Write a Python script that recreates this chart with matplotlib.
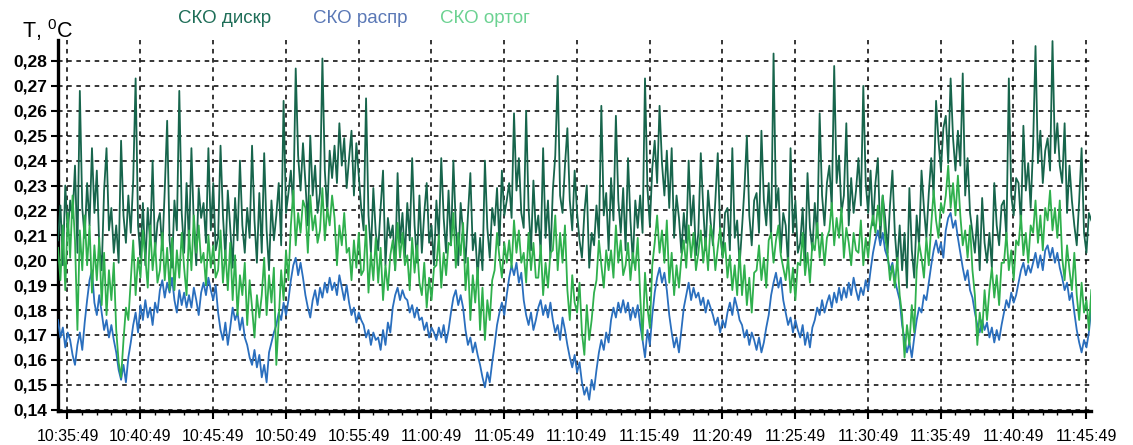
import matplotlib
matplotlib.use("Agg")
import matplotlib.pyplot as plt
import matplotlib.ticker as mticker
import matplotlib.dates as mdates
import pandas as pd

plt.rcParams['font.family'] = ['Liberation Sans', 'DejaVu Sans']

# ---- data, one sample every 10 s from 10:35:10 ----
start_time = '2020-01-01 10:35:10'
step = '10s'

sko_diskr = [
    .208, .222, .198, .230, .211, .224, .217, .238, .203, .268, .221, .209,
    .231, .214, .245, .219, .236, .206, .196, .228, .245, .212, .221, .203,
    .214, .199, .248, .218, .207, .226, .211, .232, .273, .214, .201, .223,
    .198, .221, .207, .240, .203, .215, .219, .204, .228, .256, .208, .197,
    .224, .212, .268, .219, .203, .231, .206, .245, .214, .198, .229, .217,
    .223, .207, .245, .212, .231, .204, .209, .246, .218, .201, .228, .213,
    .197, .225, .208, .240, .214, .203, .221, .209, .246, .216, .199, .227,
    .203, .243, .212, .196, .224, .208, .218, .231, .206, .264, .219, .227,
    .236, .221, .277, .242, .228, .247, .231, .214, .250, .226, .238, .219,
    .227, .281, .236, .219, .244, .233, .246, .231, .255, .238, .249, .229,
    .241, .252, .226, .247, .234, .221, .212, .265, .218, .203, .229, .211,
    .204, .221, .236, .198, .217, .209, .214, .196, .235, .207, .219, .201,
    .223, .208, .241, .214, .199, .226, .203, .219, .231, .207, .214, .198,
    .224, .209, .241, .217, .203, .228, .206, .240, .214, .198, .223, .211,
    .199, .218, .235, .204, .211, .193, .209, .196, .240, .213, .201, .221,
    .214, .229, .206, .236, .218, .224, .231, .217, .259, .228, .241, .219,
    .213, .260, .221, .204, .232, .211, .218, .203, .245, .209, .224, .201,
    .228, .242, .274, .226, .219, .238, .253, .224, .212, .236, .219, .208,
    .201, .219, .230, .197, .211, .206, .222, .209, .262, .218, .227, .204,
    .233, .216, .258, .224, .211, .229, .204, .241, .216, .199, .224, .213,
    .226, .211, .273, .229, .214, .237, .248, .231, .262, .239, .226, .244,
    .221, .245, .209, .226, .217, .203, .219, .207, .240, .214, .226, .202,
    .211, .243, .221, .204, .228, .216, .206, .224, .243, .211, .201, .219,
    .221, .204, .245, .209, .216, .198, .213, .229, .250, .218, .206, .224,
    .227, .211, .252, .224, .214, .231, .209, .283, .221, .229, .203, .219,
    .214, .198, .245, .211, .224, .203, .207, .221, .199, .235, .213, .204,
    .223, .209, .259, .226, .214, .231, .238, .221, .278, .231, .242, .219,
    .226, .255, .214, .233, .219, .228, .241, .222, .270, .231, .219, .236,
    .214, .231, .241, .209, .226, .217, .203, .222, .236, .211, .198, .214,
    .196, .211, .189, .229, .204, .193, .218, .206, .236, .221, .209, .227,
    .241, .226, .264, .248, .236, .253, .258, .239, .273, .249, .236, .252,
    .238, .275, .226, .241, .219, .211, .203, .218, .196, .225, .207, .199,
    .211, .197, .231, .214, .206, .222, .224, .209, .273, .226, .218, .233,
    .231, .214, .254, .228, .239, .221, .246, .286, .239, .252, .231, .244,
    .249, .236, .288, .243, .255, .238, .231, .255, .219, .238, .224, .214,
    .206, .224, .245, .211, .203, .219, .216,
]

sko_raspr = [
    .176, .169, .173, .165, .171, .168, .162, .158, .166, .171, .164, .175,
    .184, .192, .196, .183, .178, .186, .179, .172, .176, .169, .174, .168,
    .163, .156, .152, .158, .151, .161, .167, .174, .179, .171, .182, .176,
    .184, .177, .181, .174, .183, .179, .188, .192, .185, .191, .187, .193,
    .184, .179, .188, .182, .187, .181, .186, .181, .189, .184, .178, .187,
    .191, .186, .193, .188, .184, .190, .179, .172, .168, .175, .166, .173,
    .181, .176, .179, .172, .177, .169, .166, .161, .158, .164, .157, .162,
    .153, .158, .151, .163, .167, .171, .174, .179, .176, .183, .178, .184,
    .192, .198, .201, .194, .199, .193, .186, .181, .177, .184, .188, .182,
    .189, .185, .191, .187, .193, .188, .191, .186, .194, .189, .184, .190,
    .183, .178, .181, .175, .179, .176, .174, .169, .172, .166, .171, .168,
    .169, .164, .172, .166, .175, .171, .181, .186, .189, .184, .188, .185,
    .184, .179, .182, .177, .181, .176, .177, .172, .175, .169, .173, .171,
    .168, .173, .169, .174, .167, .172, .179, .185, .188, .182, .186, .181,
    .172, .166, .169, .163, .167, .162, .158, .153, .149, .155, .151, .159,
    .166, .174, .179, .183, .178, .186, .193, .198, .194, .199, .191, .195,
    .184, .178, .174, .179, .172, .176, .181, .184, .178, .182, .177, .183,
    .176, .171, .174, .168, .177, .172, .166, .161, .157, .162, .155, .159,
    .151, .146, .149, .144, .152, .148, .156, .163, .168, .164, .171, .167,
    .176, .181, .177, .183, .179, .184, .179, .183, .176, .181, .177, .182,
    .174, .168, .161, .172, .166, .178, .187, .193, .197, .191, .195, .188,
    .178, .171, .165, .169, .163, .172, .181, .186, .191, .184, .189, .185,
    .187, .182, .185, .179, .184, .181, .178, .174, .177, .171, .176, .173,
    .179, .183, .178, .185, .181, .176, .174, .169, .172, .166, .171, .168,
    .164, .169, .163, .167, .173, .178, .186, .191, .195, .189, .193, .184,
    .179, .174, .177, .171, .176, .172, .169, .174, .166, .171, .165, .173,
    .176, .181, .178, .184, .179, .183, .186, .181, .187, .183, .189, .184,
    .189, .185, .191, .186, .193, .188, .184, .189, .186, .192, .188, .196,
    .203, .208, .212, .206, .211, .204, .201, .196, .199, .192, .188, .184,
    .174, .168, .163, .167, .161, .169, .176, .181, .179, .186, .184, .191,
    .198, .204, .208, .203, .207, .201, .212, .217, .219, .213, .216, .209,
    .203, .197, .192, .196, .188, .185, .179, .174, .171, .176, .172, .175,
    .169, .173, .167, .172, .168, .174, .179, .184, .181, .187, .183, .186,
    .191, .196, .199, .194, .198, .195, .199, .203, .197, .202, .196, .204,
    .206, .201, .205, .199, .203, .197, .193, .188, .191, .184, .187, .179,
    .172, .167, .163, .168, .165, .171, .181,
]

sko_ortog = [
    .205, .192, .214, .188, .219, .201, .226, .208, .172, .212, .196, .218,
    .198, .214, .187, .206, .192, .209, .182, .203, .178, .196, .184, .199,
    .172, .159, .153, .168, .181, .176, .192, .208, .186, .201, .193, .212,
    .201, .189, .214, .196, .207, .191, .196, .211, .192, .205, .188, .209,
    .188, .204, .193, .211, .197, .186, .212, .196, .218, .203, .214, .199,
    .203, .190, .210, .197, .206, .193, .196, .212, .191, .204, .188, .207,
    .184, .202, .178, .194, .186, .199, .174, .192, .181, .169, .186, .177,
    .186, .201, .178, .194, .183, .197, .158, .176, .196, .184, .204, .192,
    .214, .228, .206, .219, .211, .224, .221, .203, .226, .212, .218, .207,
    .212, .229, .208, .221, .214, .226, .217, .198, .214, .206, .219, .203,
    .205, .192, .208, .197, .211, .194, .196, .214, .187, .203, .192, .209,
    .191, .205, .184, .198, .188, .202, .208, .196, .215, .201, .211, .198,
    .202, .188, .209, .195, .206, .191, .186, .199, .181, .193, .184, .197,
    .198, .210, .189, .203, .194, .207, .206, .219, .197, .211, .202, .215,
    .188, .201, .176, .194, .183, .197, .172, .189, .168, .184, .176, .192,
    .196, .211, .201, .193, .207, .199, .208, .197, .216, .203, .212, .199,
    .203, .191, .211, .196, .207, .193, .193, .206, .186, .199, .189, .203,
    .204, .218, .196, .211, .199, .214, .188, .176, .194, .183, .179, .191,
    .171, .162, .182, .168, .176, .187, .192, .208, .198, .189, .204, .196,
    .204, .193, .214, .199, .208, .194, .198, .207, .192, .203, .196, .209,
    .186, .168, .195, .181, .173, .198, .207, .218, .203, .212, .199, .216,
    .191, .203, .186, .198, .189, .201, .208, .197, .214, .201, .211, .196,
    .203, .212, .199, .209, .196, .214, .209, .196, .205, .213, .201, .207,
    .193, .202, .188, .198, .186, .204, .186, .198, .182, .193, .179, .195,
    .196, .206, .192, .201, .189, .208, .211, .199, .208, .214, .202, .197,
    .192, .201, .187, .197, .184, .199, .198, .211, .194, .203, .191, .207,
    .204, .215, .201, .211, .198, .209, .212, .223, .206, .217, .209, .221,
    .201, .213, .207, .198, .211, .204, .203, .216, .198, .209, .201, .212,
    .218, .211, .222, .214, .226, .209, .203, .192, .198, .189, .201, .186,
    .178, .161, .174, .166, .182, .171, .196, .207, .201, .193, .209, .198,
    .214, .228, .216, .209, .223, .219, .226, .238, .221, .231, .218, .234,
    .218, .206, .212, .201, .214, .196, .186, .166, .179, .171, .188, .176,
    .188, .197, .185, .194, .182, .199, .199, .211, .196, .204, .192, .208,
    .206, .218, .202, .211, .199, .214, .211, .224, .207, .218, .204, .221,
    .216, .228, .212, .221, .209, .224, .201, .192, .206, .196, .188, .203,
    .186, .176, .191, .179, .184, .172, .188,
]

y_ticks = [0.14, 0.15, 0.16, 0.17, 0.18, 0.19, 0.20, 0.21, 0.22, 0.23, 0.24, 0.25, 0.26, 0.27, 0.28]
x_tick_labels = ['10:35:49', '10:40:49', '10:45:49', '10:50:49', '10:55:49', '11:00:49', '11:05:49',
                 '11:10:49', '11:15:49', '11:20:49', '11:25:49', '11:30:49', '11:35:49', '11:40:49',
                 '11:45:49']
series_names = ['СКО дискр', 'СКО распр', 'СКО ортог']

# ---- figure ----
times = pd.date_range(start=start_time, periods=len(sko_diskr), freq=step)
x_ticks = pd.to_datetime(['2020-01-01 ' + s for s in x_tick_labels])
minor_ticks = pd.date_range(start=x_ticks[0], end=x_ticks[-1], freq='1min')

fig = plt.figure(figsize=(11.33, 4.45), dpi=100)
ax = fig.add_axes([0.0512, 0.0765, 0.912, 0.834])

c_diskr = '#17654c'
c_raspr = '#2a6fbe'
c_ortog = '#2fb04d'

ax.plot(times, sko_raspr, color=c_raspr, lw=1.3, zorder=3)
ax.plot(times, sko_diskr, color=c_diskr, lw=1.3, zorder=4)
ax.plot(times, sko_ortog, color=c_ortog, lw=1.3, zorder=5)

ax.set_xlim(times[0], times[-1])
ax.set_ylim(0.1395, 0.2885)

ax.set_yticks(y_ticks)
ax.yaxis.set_major_formatter(mticker.FuncFormatter(lambda v, p: f'{v:.2f}'.replace('.', ',')))
ax.set_xticks(x_ticks)
ax.set_xticklabels(x_tick_labels)
ax.xaxis.set_minor_locator(mticker.FixedLocator(mdates.date2num(minor_ticks)))

ax.grid(True, which='major', color='black', linestyle=(0, (3, 3)), lw=1.1, zorder=1)
ax.set_axisbelow(True)

for s in ['top', 'right']:
    ax.spines[s].set_visible(False)
ax.spines['left'].set_linewidth(2.4)
ax.spines['bottom'].set_linewidth(2.4)

ax.tick_params(axis='y', which='major', length=5, width=1.5, labelsize=12.5, pad=3)
ax.tick_params(axis='x', which='major', length=6, width=1.5, labelsize=11.5, pad=7, direction='out')
ax.tick_params(axis='x', which='minor', length=3, width=1.0, direction='out')
for lbl in ax.get_yticklabels():
    lbl.set_fontweight('bold')

fig.text(0.019, 0.933, 'T, $^{\\mathregular{0}}$C', fontsize=15.5, ha='left', va='center')
fig.text(0.157, 0.958, series_names[0], fontsize=13.5, color='#1f6e58', ha='left', va='center')
fig.text(0.276, 0.958, series_names[1], fontsize=13.5, color='#5a78b6', ha='left', va='center')
fig.text(0.388, 0.958, series_names[2], fontsize=13.5, color='#6cd292', ha='left', va='center')

fig.savefig('out.png', dpi=100)
